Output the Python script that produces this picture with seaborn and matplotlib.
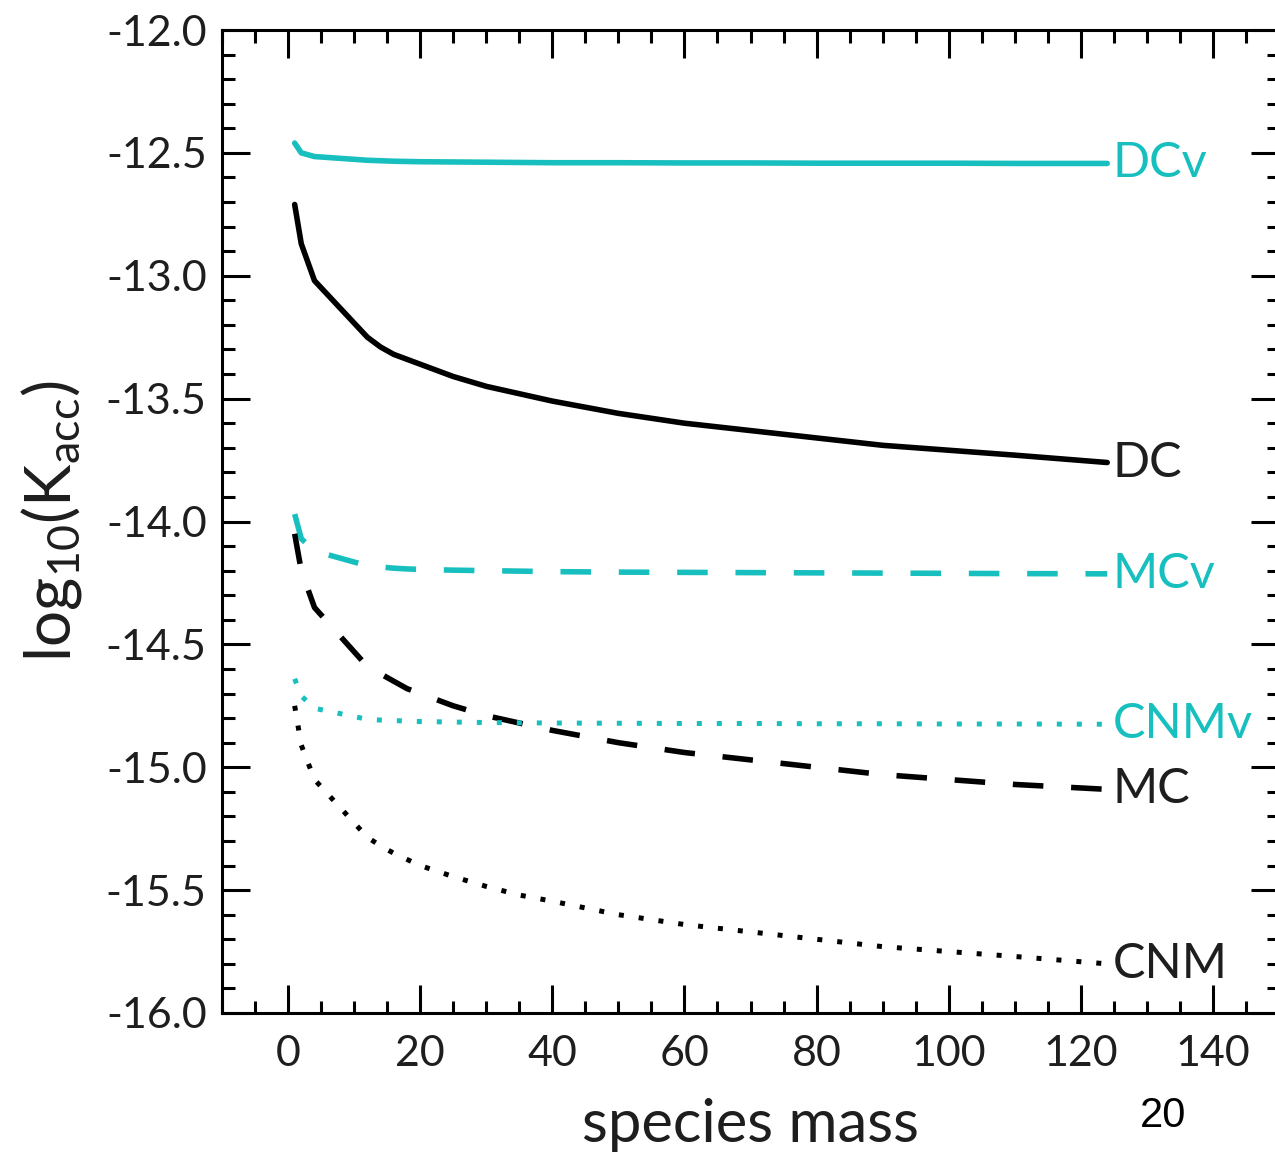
import matplotlib
matplotlib.use("Agg")
import matplotlib.pyplot as plt
import seaborn as sns
import pandas as pd
from matplotlib.ticker import MultipleLocator

sns.set_style("white")
plt.rcParams['font.family'] = ['Lato', 'DejaVu Sans']
plt.rcParams['mathtext.default'] = 'regular'

# ---- data ----
mass = [1, 2, 4, 12, 14, 16, 18, 20, 25, 30, 35, 40, 50, 60, 70, 80, 90, 100, 110, 124]

dcv = [-12.46, -12.50, -12.515, -12.53, -12.532, -12.534, -12.535, -12.536, -12.537, -12.538,
       -12.539, -12.54, -12.54, -12.541, -12.541, -12.542, -12.542, -12.542, -12.543, -12.543]
dc = [-12.71, -12.87, -13.02, -13.25, -13.29, -13.32, -13.34, -13.36, -13.41, -13.45,
      -13.48, -13.51, -13.56, -13.60, -13.63, -13.66, -13.69, -13.71, -13.73, -13.76]
mcv = [-13.97, -14.07, -14.12, -14.18, -14.185, -14.19, -14.193, -14.195, -14.198, -14.20,
       -14.202, -14.204, -14.206, -14.207, -14.208, -14.209, -14.21, -14.211, -14.212, -14.213]
mc = [-14.05, -14.20, -14.35, -14.59, -14.62, -14.65, -14.68, -14.70, -14.75, -14.79,
      -14.82, -14.85, -14.90, -14.94, -14.97, -15.00, -15.03, -15.05, -15.07, -15.09]
cnmv = [-14.64, -14.71, -14.76, -14.805, -14.808, -14.81, -14.812, -14.814, -14.816, -14.818,
        -14.819, -14.82, -14.821, -14.822, -14.822, -14.823, -14.823, -14.824, -14.824, -14.825]
cnm = [-14.75, -14.91, -15.05, -15.285, -15.32, -15.35, -15.375, -15.40, -15.445, -15.485,
       -15.52, -15.545, -15.60, -15.64, -15.67, -15.70, -15.73, -15.75, -15.77, -15.80]

series_names = ["DCv", "DC", "MCv", "MC", "CNMv", "CNM"]
series_vals = [dcv, dc, mcv, mc, cnmv, cnm]

xtick_vals = [0, 20, 40, 60, 80, 100, 120, 140]
xtick_labels = ["0", "20", "40", "60", "80", "100", "120", "140"]
ytick_vals = [-16, -15.5, -15, -14.5, -14, -13.5, -13, -12.5, -12]
ytick_labels = ["-16.0", "-15.5", "-15.0", "-14.5", "-14.0", "-13.5", "-13.0", "-12.5", "-12.0"]

CYAN = "#17BFBF"
BLACK = "#000000"
TEXT = "#1e1e1e"
styles = {
    "DCv": (CYAN, '-', 4.0),
    "DC": (BLACK, '-', 4.0),
    "MCv": (CYAN, (0, (5.5, 5.0)), 4.0),
    "MC": (BLACK, (0, (5.5, 5.0)), 4.0),
    "CNMv": (CYAN, (0, (1.0, 3.0)), 3.6),
    "CNM": (BLACK, (0, (1.0, 3.0)), 3.6),
}

df = pd.concat([pd.DataFrame({"mass": mass, "val": v, "series": n})
                for n, v in zip(series_names, series_vals)], ignore_index=True)

fig = plt.figure(figsize=(12.75, 11.54), dpi=100)
ax = fig.add_axes([222/1275, (1154-1013)/1154, (1279-222)/1275, (1013-30)/1154])

for n in series_names:
    col, ls, lw = styles[n]
    sub = df[df.series == n]
    sns.lineplot(data=sub, x="mass", y="val", ax=ax, color=col, linestyle=ls,
                 lw=lw, estimator=None, errorbar=None, sort=False, legend=False)
    lab_col = CYAN if n.endswith('v') else TEXT
    ax.annotate(n, xy=(sub["mass"].iloc[-1], sub["val"].iloc[-1]), xytext=(4, 0),
                textcoords='offset points', ha='left', va='center', fontsize=35,
                color=lab_col)

ax.set_xlim(-10, 150)
ax.set_ylim(-16, -12)
ax.xaxis.set_minor_locator(MultipleLocator(5))
ax.yaxis.set_minor_locator(MultipleLocator(0.1))
ax.set_xticks(xtick_vals)
ax.set_xticklabels(xtick_labels)
ax.set_yticks(ytick_vals)
ax.set_yticklabels(ytick_labels)

ax.tick_params(which='both', direction='in', top=True, right=True, bottom=True, left=True,
               width=2.2, color='black')
ax.tick_params(which='major', length=20, labelsize=31, labelcolor=TEXT)
ax.tick_params(axis='y', which='major', pad=11)
ax.tick_params(axis='x', which='major', pad=16)
ax.tick_params(which='minor', length=9)
for sp in ax.spines.values():
    sp.set_linewidth(2.2)
    sp.set_color('black')

ax.set_xlabel("species mass", fontsize=43, color=TEXT, labelpad=18)
ax.set_ylabel(r"$\mathregular{log_{10}(K_{acc})}$", fontsize=46, color=TEXT, labelpad=16)
ax.grid(False)

fig.text(1163/1275, 1 - 1116/1154, "20", fontsize=30,
         fontfamily=['Liberation Sans', 'DejaVu Sans'],
         ha='center', va='center', color='black')

fig.savefig("out.png", dpi=100)
